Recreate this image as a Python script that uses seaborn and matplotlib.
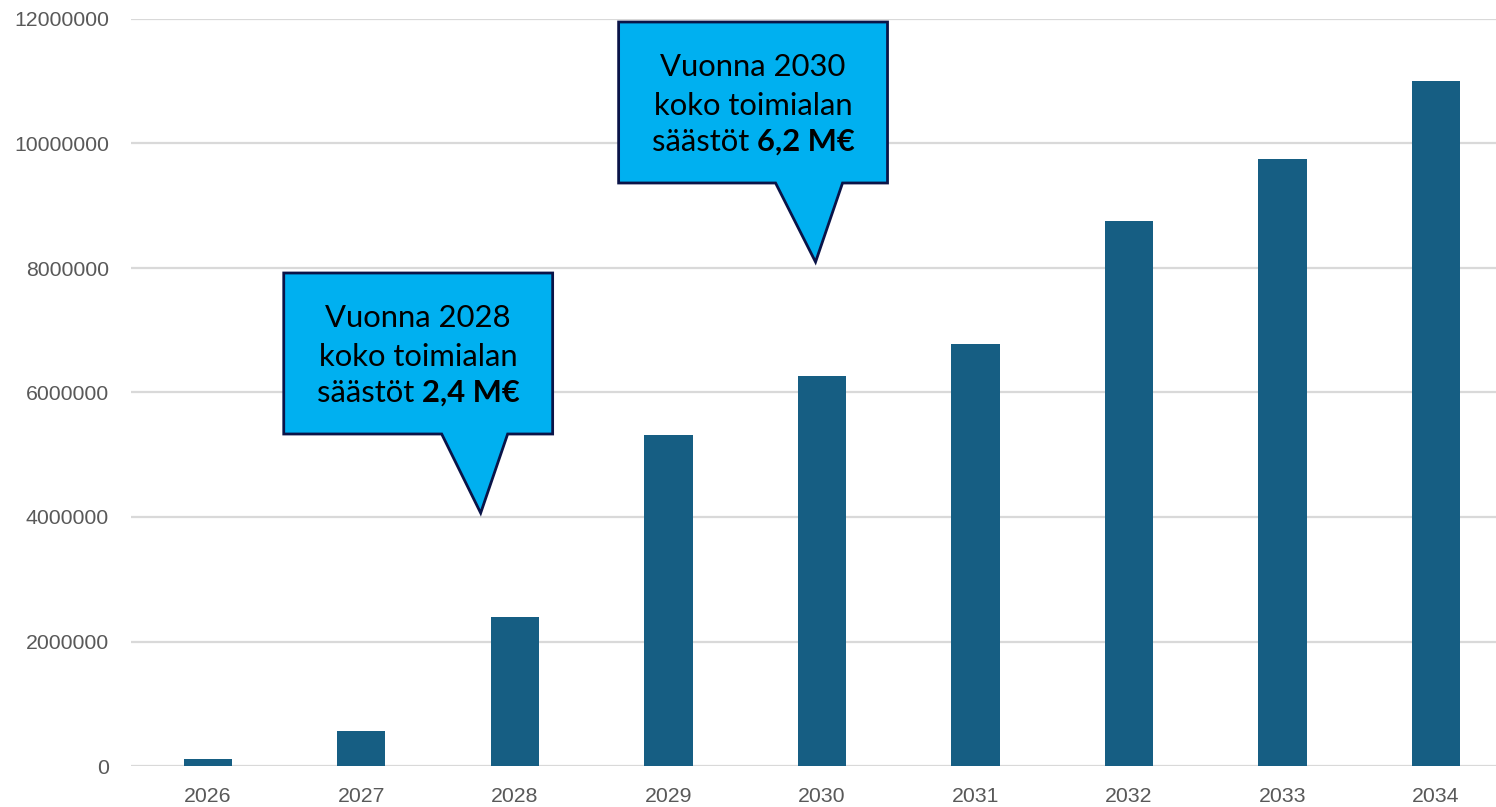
import pandas as pd
import matplotlib.pyplot as plt
from matplotlib.patches import Polygon
import seaborn as sns

years = ['2026', '2027', '2028', '2029', '2030', '2031', '2032', '2033', '2034']
savings = [120000, 570000, 2400000, 5320000, 6270000, 6780000, 8760000, 9750000, 11010000]
y_ticks = [0, 2000000, 4000000, 6000000, 8000000, 10000000, 12000000]

callout_lines = [
    ['Vuonna 2028', 'koko toimialan', 'säästöt ', '2,4 M€'],
    ['Vuonna 2030', 'koko toimialan', 'säästöt ', '6,2 M€'],
]

data = pd.DataFrame({'vuosi': years, 'saastot': savings})

sns.set_style('white')
plt.rcParams['font.family'] = ['Liberation Sans', 'DejaVu Sans']

W, H = 1496, 807
fig = plt.figure(figsize=(W / 100, H / 100), dpi=100)
ax = fig.add_axes([131 / W, 41 / H, (W - 131) / W, (766 - 19) / H])

sns.barplot(data=data, x='vuosi', y='saastot', color='#165E83', width=0.315,
            saturation=1, linewidth=0, ax=ax, zorder=3)
ax.set_xlim(-0.5, 8.39)
ax.set_ylim(0, 12000000)
ax.set_yticks(y_ticks)
ax.set_yticklabels([str(t) for t in y_ticks])
ax.yaxis.grid(True, color='#D9D9D9', linewidth=1.6, zorder=0)
ax.set_axisbelow(True)
ax.set_xlabel('')
ax.set_ylabel('')
ax.tick_params(axis='both', length=0, labelsize=15.3, labelcolor='#595959')
ax.tick_params(axis='y', pad=16)
ax.tick_params(axis='x', pad=15)
sns.despine(ax=ax, left=True, bottom=True, top=True, right=True)


# pixel -> data helpers for the callout shapes
def px(x):
    return (x - 208) / 153.6


def py(y):
    return (766 - y) / 62.25 * 1e6


boxes = [
    # left, right, top, bottom, base_l, base_r, tip_x, tip_y, line y's
    (284, 553, 273, 434, 442, 508, 481, 513, [318, 357, 393]),
    (619, 888, 22, 183, 776, 843, 816, 262, [67, 106, 142]),
]

texts = []
for (l, r, t, b, bl, br, tx, ty, ly), lines in zip(boxes, callout_lines):
    verts = [(px(l), py(t)), (px(r), py(t)), (px(r), py(b)), (px(br), py(b)),
             (px(tx), py(ty)), (px(bl), py(b)), (px(l), py(b))]
    ax.add_patch(Polygon(verts, closed=True, facecolor='#00B0F0', edgecolor='#0A1448',
                         linewidth=2, zorder=5, clip_on=False))
    cx = px((l + r) / 2)
    for i in range(2):
        ax.text(cx, py(ly[i]), lines[i], ha='center', va='center', fontsize=22.3,
                family=['Lato', 'DejaVu Sans'], color='black', zorder=6)
    t1 = ax.text(cx, py(ly[2]), lines[2], ha='left', va='center', fontsize=22.3,
                 family=['Lato', 'DejaVu Sans'], color='black', zorder=6)
    t2 = ax.text(cx, py(ly[2]), lines[3], ha='left', va='center', fontsize=22.3,
                 family=['Lato', 'DejaVu Sans'], fontweight='bold', color='black', zorder=6)
    texts.append((cx, t1, t2))

# centre the mixed regular/bold last line
fig.canvas.draw()
r = fig.canvas.get_renderer()
inv = ax.transData.inverted()
for cx, t1, t2 in texts:
    w1 = t1.get_window_extent(r).width
    w2 = t2.get_window_extent(r).width
    cpx = ax.transData.transform((cx, 0))[0]
    start = cpx - (w1 + w2) / 2
    t1.set_x(inv.transform((start, 0))[0])
    t2.set_x(inv.transform((start + w1, 0))[0])

fig.savefig('out.png', dpi=100)
